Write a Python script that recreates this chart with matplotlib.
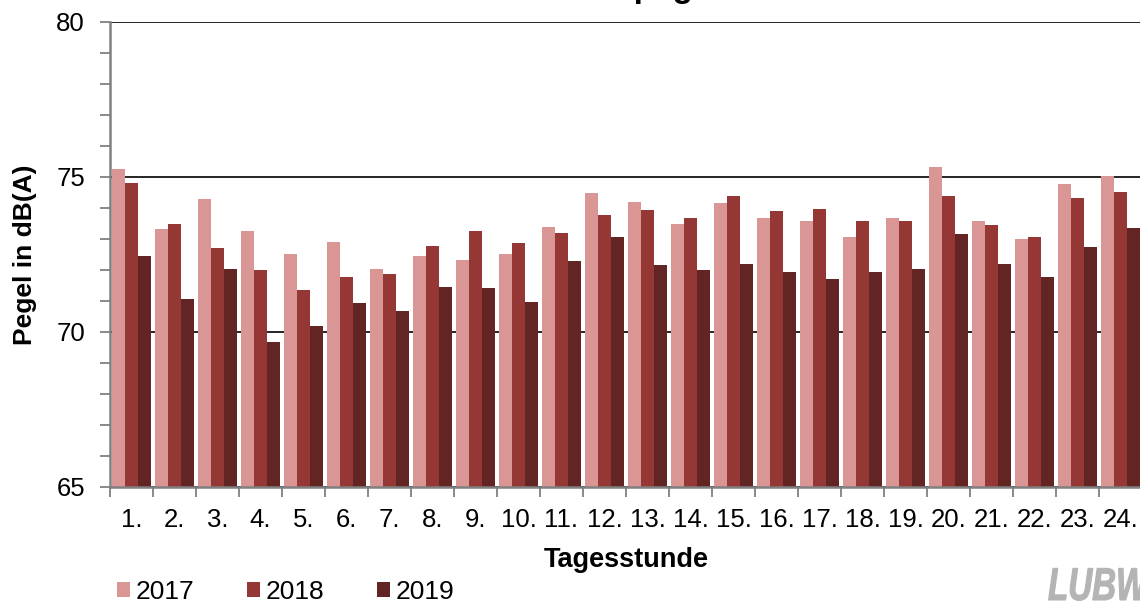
#!/usr/bin/env python3

'''Hourly mean levels 2017-2019, grouped bar chart'''

import matplotlib
matplotlib.use('Agg')
import matplotlib.pyplot as plt
from matplotlib.ticker import MultipleLocator, FixedLocator
from matplotlib.textpath import TextPath
from matplotlib.patches import PathPatch
from matplotlib.font_manager import FontProperties
from matplotlib.transforms import Affine2D
import numpy as np

plt.rcParams['font.family'] = ['Liberation Sans', 'DejaVu Sans']

stunden = ['{}.'.format(i) for i in range(1, 25)]
jahre = ['2017', '2018', '2019']

pegel_2017 = [75.26, 73.32, 74.30, 73.27, 72.53, 72.90, 72.03, 72.45, 72.33, 72.53, 73.40, 74.47,
              74.18, 73.49, 74.15, 73.69, 73.57, 73.07, 73.69, 75.31, 73.57, 72.99, 74.76, 75.02]
pegel_2018 = [74.80, 73.48, 72.70, 72.00, 71.37, 71.79, 71.87, 72.78, 73.27, 72.87, 73.20, 73.77,
              73.94, 73.69, 74.40, 73.89, 73.98, 73.57, 73.57, 74.40, 73.44, 73.07, 74.31, 74.52]
pegel_2019 = [72.45, 71.05, 72.04, 69.68, 70.18, 70.92, 70.68, 71.46, 71.42, 70.97, 72.29, 73.07,
              72.16, 72.00, 72.20, 71.95, 71.71, 71.95, 72.04, 73.15, 72.20, 71.79, 72.74, 73.36]

farben = ['#D99694', '#953735', '#632523']

W, H = 1140, 604
fig = plt.figure(figsize=(W / 100, H / 100), dpi=100)
ax = fig.add_axes([110 / W, (H - 487) / H, 1032 / W, 465 / H])

x = np.arange(len(stunden))
bw = 0.307
for k, (serie, farbe, jahr) in enumerate(zip([pegel_2017, pegel_2018, pegel_2019], farben, jahre)):
    ax.bar(x + (k - 1) * bw, np.array(serie) - 65, bw, bottom=65, color=farbe, label=jahr,
           linewidth=0, zorder=2)

ax.set_xlim(-0.5, len(stunden) - 0.5)
ax.set_ylim(65, 80)

# y axis: labels every 5, ticks every 1
ax.yaxis.set_major_locator(MultipleLocator(5))
ax.yaxis.set_minor_locator(MultipleLocator(1))
ax.tick_params(axis='y', which='both', direction='out', length=7, width=1.3, color='#808080',
               labelsize=18.5, pad=11)

# x axis: tick marks between groups, labels under groups
ax.xaxis.set_major_locator(FixedLocator(np.arange(-0.5, len(stunden), 1.0)))
ax.xaxis.set_minor_locator(FixedLocator(x))
ax.set_xticklabels([], minor=False)
ax.set_xticklabels(stunden, minor=True)
ax.tick_params(axis='x', which='major', direction='out', length=7, width=1.3, color='#808080')
ax.tick_params(axis='x', which='minor', length=0, labelsize=18.5, pad=15)

ax.grid(axis='y', which='major', color='black', linewidth=1.2)
ax.set_axisbelow(True)

for s in ['top', 'right']:
    ax.spines[s].set_visible(False)
for s in ['left', 'bottom']:
    ax.spines[s].set_color('#808080')
    ax.spines[s].set_linewidth(1.8)
ax.spines['left'].set_zorder(3)

ax.set_xlabel('Tagesstunde', fontsize=19.5, fontweight='bold', labelpad=11)
ax.set_ylabel('Pegel in dB(A)', fontsize=19, fontweight='bold', labelpad=14)

# title, mostly cut off above the figure
fig.text(500 / W, 1 + 3 / H, 'Stundenpegel', fontsize=24, fontweight='bold', ha='left', va='baseline')

ax.legend(loc='lower left', bbox_to_anchor=(117 / W, 0), bbox_transform=fig.transFigure,
          ncol=3, frameon=False, fontsize=19, handlelength=0.5, handleheight=0.5,
          handletextpad=0.2, columnspacing=2.0, borderpad=0, borderaxespad=0)

# LUBW logo, condensed italic, cut at the right edge
logo = TextPath((0, 0), 'LUBW', size=46, prop=FontProperties(family='Liberation Sans',
                                                             weight='bold', style='italic'))
logo = Affine2D().scale(0.72, 1.0).translate(1048, 4).transform_path(logo)
fig.patches.append(PathPatch(logo, facecolor='#B4B4B4', edgecolor='#B4B4B4', linewidth=0.8,
                             transform=None, figure=fig))

fig.savefig('out.png', dpi=100)
